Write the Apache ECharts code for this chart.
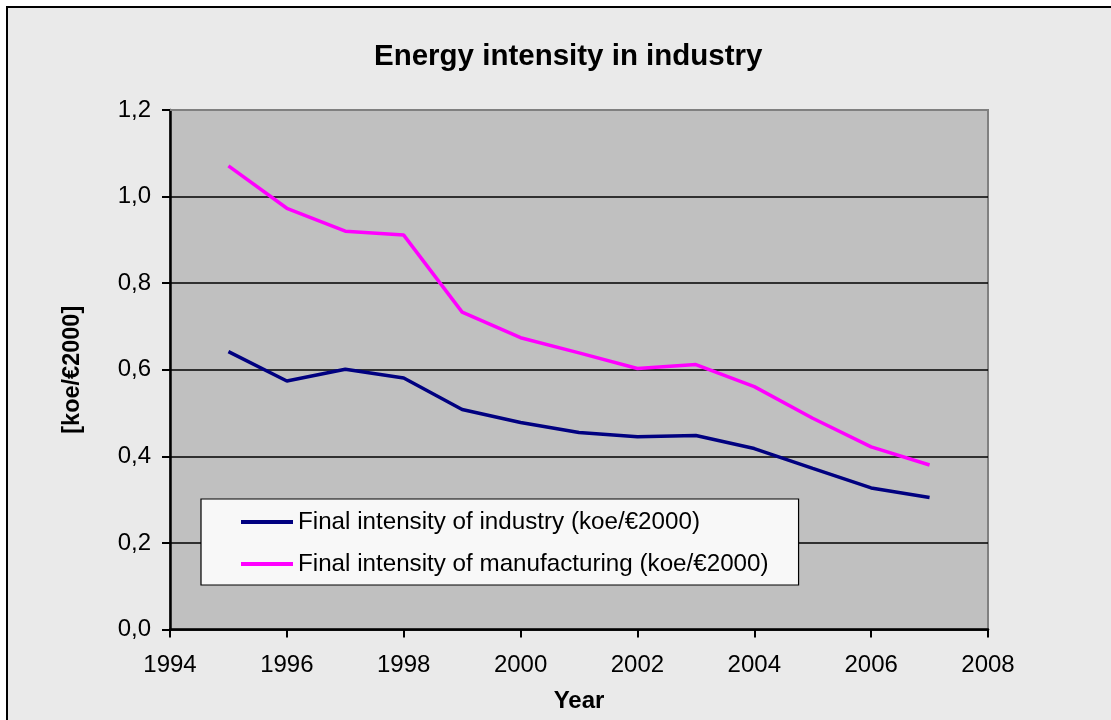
<!DOCTYPE html>
<html>
<head>
<meta charset="utf-8">
<script src="https://cdn.jsdelivr.net/npm/echarts@6/dist/echarts.min.js"></script>
<style>
  html, body { margin: 0; padding: 0; background: #ffffff; overflow: hidden; }
  #frame {
    position: absolute; left: 6px; top: 6px; width: 1200px; height: 800px;
    border: 2px solid #000; background: #eaeaea;
  }
  #chart { position: absolute; left: 0; top: 0; width: 1111px; height: 720px; }
</style>
</head>
<body>
<div id="frame"></div>
<div id="chart"></div>
<script>
// Final energy intensity, koe per euro (2000 prices)
const years = [1995, 1996, 1997, 1998, 1999, 2000, 2001, 2002, 2003, 2004, 2005, 2006, 2007];
const industry = [0.642, 0.574, 0.601, 0.581, 0.508, 0.478, 0.455, 0.445, 0.448, 0.418, 0.372, 0.327, 0.305];
const manufacturing = [1.071, 0.973, 0.920, 0.911, 0.733, 0.674, 0.639, 0.603, 0.612, 0.561, 0.488, 0.422, 0.380];
const seriesNames = [
  'Final intensity of industry (koe/€2000)',
  'Final intensity of manufacturing (koe/€2000)'
];

const FONT = '"Liberation Sans", Arial, sans-serif';
const pairs = vals => years.map((y, i) => [y, vals[i]]);

const chart = echarts.init(document.getElementById('chart'), null, { renderer: 'canvas' });

const option = {
  backgroundColor: 'transparent',
  animation: false,
  title: {
    text: 'Energy intensity in industry',
    left: 369,
    top: 37,
    textStyle: { fontFamily: FONT, fontSize: 29.5, fontWeight: 'bold', color: '#000' }
  },
  grid: {
    left: 170, right: 123, top: 110, bottom: 90.5,
    show: true, backgroundColor: '#c0c0c0', borderColor: '#808080', borderWidth: 2
  },
  legend: {
    orient: 'vertical',
    left: 201, top: 499,
    padding: [11, 30, 9, 40],
    itemGap: 18,
    itemWidth: 52,
    itemHeight: 4,
    icon: 'rect',
    backgroundColor: '#f8f8f8',
    borderColor: '#000',
    borderWidth: 1.2,
    borderRadius: 0,
    textStyle: { fontFamily: FONT, fontSize: 24.2, color: '#000' },
    data: seriesNames
  },
  xAxis: {
    type: 'value',
    min: 1994, max: 2008, interval: 2,
    name: 'Year',
    nameLocation: 'middle',
    nameGap: 60,
    nameTextStyle: { fontFamily: FONT, fontSize: 24, fontWeight: 'bold', color: '#000' },
    axisLine: { lineStyle: { color: '#000', width: 2.5 } },
    axisTick: { show: true, length: 8, lineStyle: { color: '#000', width: 2 } },
    axisLabel: { fontFamily: FONT, fontSize: 24, color: '#000', margin: 24, formatter: v => String(v) },
    splitLine: { show: false }
  },
  yAxis: {
    type: 'value',
    min: 0, max: 1.2, interval: 0.2,
    name: '[koe/€2000]',
    nameLocation: 'middle',
    nameGap: 85,
    nameRotate: 90,
    nameTextStyle: { fontFamily: FONT, fontSize: 23.5, fontWeight: 'bold', color: '#000' },
    axisLine: { show: true, lineStyle: { color: '#000', width: 2.5 } },
    axisTick: { show: true, length: 8, lineStyle: { color: '#000', width: 2 } },
    axisLabel: {
      fontFamily: FONT, fontSize: 24, color: '#000', margin: 19,
      formatter: v => v.toFixed(1).replace('.', ',')
    },
    splitLine: { show: true, lineStyle: { color: '#000', width: 1.6 } }
  },
  series: [
    {
      name: seriesNames[0],
      type: 'line',
      data: pairs(industry),
      symbol: 'none',
      color: '#000080',
      lineStyle: { color: '#000080', width: 3.5 },
      z: 3
    },
    {
      name: seriesNames[1],
      type: 'line',
      data: pairs(manufacturing),
      symbol: 'none',
      color: '#ff00ff',
      lineStyle: { color: '#ff00ff', width: 3.5 },
      z: 3
    }
  ]
};

chart.setOption(option);

// Plot-area top edge in grey, drawn over the top gridline
const topLeft = chart.convertToPixel({ gridIndex: 0 }, [1994, 1.2]);
const topRight = chart.convertToPixel({ gridIndex: 0 }, [2008, 1.2]);
chart.setOption({
  graphic: [{
    type: 'line',
    z: 2,
    shape: { x1: topLeft[0], y1: topLeft[1], x2: topRight[0] + 1, y2: topRight[1] },
    style: { stroke: '#808080', lineWidth: 2 }
  }]
});
</script>
</body>
</html>
